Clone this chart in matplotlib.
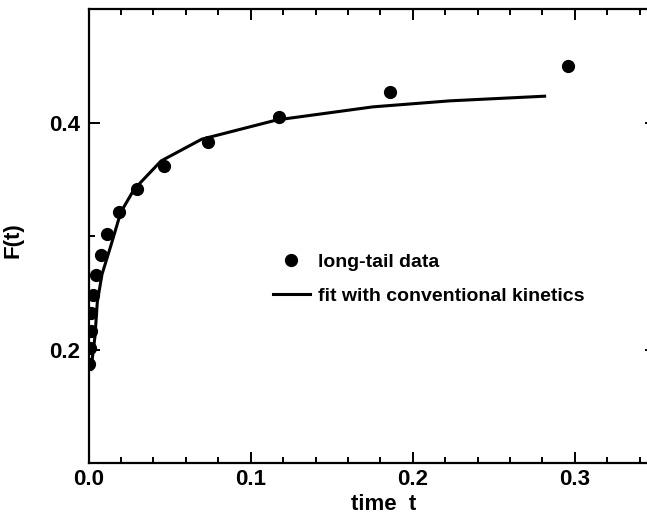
import matplotlib
matplotlib.use("Agg")
import matplotlib.pyplot as plt
from matplotlib.ticker import MultipleLocator

# === Data ===
t_data = [0.0005, 0.0009, 0.0014, 0.0017, 0.0026, 0.0044, 0.0075, 0.0117,
          0.0188, 0.0297, 0.0465, 0.0739, 0.1176, 0.1861, 0.2958]
F_data = [0.187, 0.2015, 0.216, 0.232, 0.248, 0.2655, 0.283, 0.302,
          0.3216, 0.3418, 0.3617, 0.3832, 0.405, 0.427, 0.4494]

t_fit = [0.0015, 0.0040, 0.0054, 0.0083, 0.0137, 0.0199, 0.0281, 0.0447,
         0.0698, 0.1162, 0.1754, 0.2229, 0.2813]
F_fit = [0.1824, 0.2117, 0.2415, 0.2662, 0.2911, 0.3209, 0.3411, 0.3661,
         0.3853, 0.4023, 0.4138, 0.4191, 0.4232]

xticks = [0.0, 0.1, 0.2, 0.3]
yticks = [0.2, 0.4]

plt.rcParams['font.family'] = ['Liberation Sans', 'DejaVu Sans']
plt.rcParams['font.weight'] = 'bold'

fig = plt.figure(figsize=(6.47, 5.16), dpi=100)
# right spine sits just past the picture edge, as in the scan
ax = fig.add_axes([0.1368, 0.1027, 0.8771, 0.8798])

ax.plot(t_fit, F_fit, color='black', lw=2.2, label='fit with conventional kinetics')
ax.plot(t_data, F_data, 'o', color='black', ms=8.5, mec='black',
        label='long-tail data')

ax.set_xlim(0, 0.35)
ax.set_ylim(0.1, 0.5)
ax.set_xticks(xticks)
ax.set_yticks(yticks)
ax.xaxis.set_minor_locator(MultipleLocator(0.02))
ax.yaxis.set_minor_locator(MultipleLocator(0.1))
ax.set_xticklabels(['0.0', '0.1', '0.2', '0.3'])
ax.set_yticklabels(['0.2', '0.4'])

for s in ax.spines.values():
    s.set_linewidth(1.6)
ax.tick_params(which='both', direction='in', top=True, right=True,
               width=1.4, labelsize=16)
ax.tick_params(which='major', length=8)
ax.tick_params(which='minor', length=4)
ax.tick_params(axis='y', pad=6)
ax.tick_params(axis='x', pad=4)

ax.set_xlabel('time  t', fontsize=16, fontweight='bold')
ax.xaxis.set_label_coords(0.52, -0.068)
ax.set_ylabel('F(t)', fontsize=16, fontweight='bold')
ax.yaxis.set_label_coords(-0.115, 0.49)

handles, labels = ax.get_legend_handles_labels()
ax.legend(handles[::-1], labels[::-1], loc='upper left',
          bbox_to_anchor=(0.325, 0.462), frameon=False,
          prop={'size': 14, 'weight': 'bold'},
          handlelength=1.9, handletextpad=0.4, labelspacing=0.85,
          borderpad=0, borderaxespad=0)

fig.savefig('out.png', dpi=100)
